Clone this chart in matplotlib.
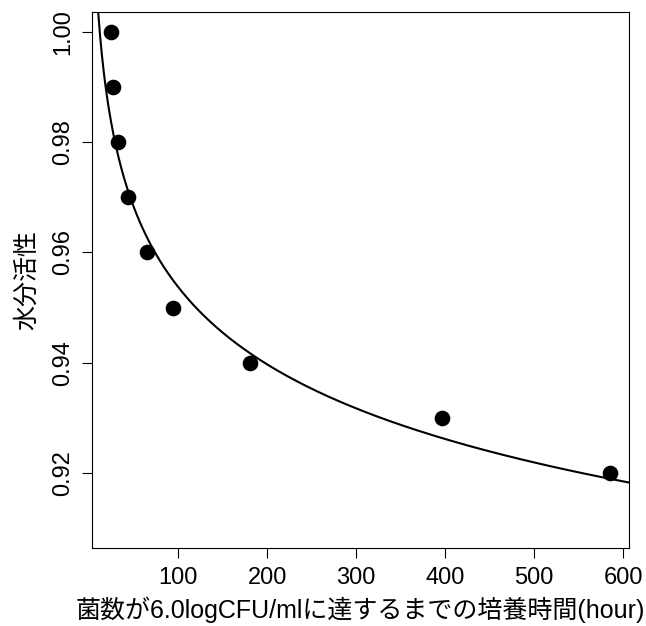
import numpy as np
import matplotlib
matplotlib.use("Agg")
import matplotlib.pyplot as plt

plt.rcParams['font.family'] = ['Liberation Sans', 'Noto Sans CJK JP', 'DejaVu Sans']

# 培養時間 (hour) と 水分活性
hours = [25.2, 27.0, 32.9, 43.5, 65.6, 94.7, 181.3, 396.0, 585.0]
aw = [1.00, 0.99, 0.98, 0.97, 0.96, 0.95, 0.94, 0.93, 0.92]

# fitted curve aw = a + k * hour^c
fit_a = 0.5711
fit_k = 0.4907
fit_c = -0.054

x_ticks = [100, 200, 300, 400, 500, 600]
y_ticks = [0.92, 0.94, 0.96, 0.98, 1.00]
y_tick_labels = ['0.92', '0.94', '0.96', '0.98', '1.00']

fig = plt.figure(figsize=(6.46, 6.26), dpi=100)
ax = fig.add_axes([92 / 646, 1 - 548 / 626, 537 / 646, 536 / 626])

xx = np.linspace(3.4, 606.4, 600)
ax.plot(xx, fit_a + fit_k * xx ** fit_c, color='black', lw=1.5)
ax.scatter(hours, aw, s=105, color='black', zorder=3)

ax.set_xlim(3.4, 606.4)
ax.set_ylim(0.9064, 1.0036)
ax.set_xticks(x_ticks)
ax.set_yticks(y_ticks)
ax.set_yticklabels(y_tick_labels, rotation=90, va='center')
ax.tick_params(axis='both', labelsize=17, length=7, width=0.8)
ax.tick_params(axis='x', pad=7)
ax.tick_params(axis='y', pad=6)
for s in ax.spines.values():
    s.set_linewidth(0.8)

ax.set_xlabel('菌数が6.0logCFU/mlに達するまでの培養時間(hour)', fontsize=18, labelpad=5)
ax.set_ylabel('水分活性', fontsize=18, labelpad=9)

fig.savefig('out.png', dpi=100)
